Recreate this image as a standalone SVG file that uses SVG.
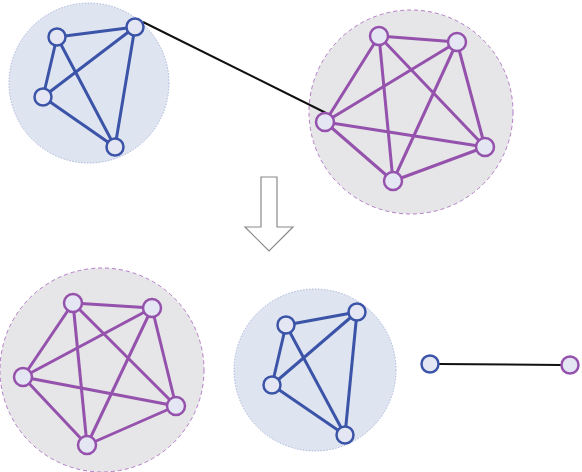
<svg xmlns="http://www.w3.org/2000/svg" width="582" height="472" viewBox="0 0 582 472">
<style>
.bgb{fill:#dfe4f1;stroke:#aab6da;stroke-width:1;stroke-dasharray:1.5 1.5}
.bgp{fill:#e6e6e8;stroke:#b47cc8;stroke-width:1;stroke-dasharray:4 3}
.eb{stroke:#3b54a8;stroke-width:3;fill:none}
.ep{stroke:#9552ad;stroke-width:3;fill:none}
.nb{fill:#e4e7f3;stroke:#3b54a8;stroke-width:2.5}
.np{fill:#e4e7f3;stroke:#9552ad;stroke-width:2.5}
.link{stroke:#111;stroke-width:2;fill:none}
</style>
<rect width="582" height="472" fill="#fff"/>
<g id="cluster-top-left">
<circle class="bgb" cx="89" cy="83" r="80"/>
</g>
<g id="cluster-top-right">
<circle class="bgp" cx="411" cy="112" r="102"/>
</g>
<g id="cluster-bottom-left">
<circle class="bgp" cx="102" cy="370" r="102"/>
</g>
<g id="cluster-bottom-mid">
<circle class="bgb" cx="315" cy="370" r="81"/>
</g>
<g id="connectors">
<g class="eb">
<line x1="57" y1="37" x2="135" y2="27"/>
<line x1="57" y1="37" x2="43" y2="97"/>
<line x1="57" y1="37" x2="115" y2="147"/>
<line x1="135" y1="27" x2="43" y2="97"/>
<line x1="135" y1="27" x2="115" y2="147"/>
<line x1="43" y1="97" x2="115" y2="147"/>
<line x1="286" y1="325" x2="357" y2="312"/>
<line x1="286" y1="325" x2="272" y2="385"/>
<line x1="286" y1="325" x2="345" y2="435"/>
<line x1="357" y1="312" x2="272" y2="385"/>
<line x1="357" y1="312" x2="345" y2="435"/>
<line x1="272" y1="385" x2="345" y2="435"/>
</g>
<g class="ep">
<line x1="379" y1="36" x2="457" y2="42"/>
<line x1="379" y1="36" x2="325" y2="122"/>
<line x1="379" y1="36" x2="485" y2="147"/>
<line x1="379" y1="36" x2="393" y2="181"/>
<line x1="457" y1="42" x2="325" y2="122"/>
<line x1="457" y1="42" x2="485" y2="147"/>
<line x1="457" y1="42" x2="393" y2="181"/>
<line x1="325" y1="122" x2="485" y2="147"/>
<line x1="325" y1="122" x2="393" y2="181"/>
<line x1="485" y1="147" x2="393" y2="181"/>
<line x1="73" y1="303" x2="152" y2="308"/>
<line x1="73" y1="303" x2="23" y2="377"/>
<line x1="73" y1="303" x2="176" y2="406"/>
<line x1="73" y1="303" x2="87" y2="445"/>
<line x1="152" y1="308" x2="23" y2="377"/>
<line x1="152" y1="308" x2="176" y2="406"/>
<line x1="152" y1="308" x2="87" y2="445"/>
<line x1="23" y1="377" x2="176" y2="406"/>
<line x1="23" y1="377" x2="87" y2="445"/>
<line x1="176" y1="406" x2="87" y2="445"/>
</g>
<line class="link" x1="143" y1="22" x2="326" y2="113"/>
<line class="link" x1="439" y1="364" x2="561" y2="365"/>
<path d="M261 177 H277 V227 H293 L269 251 L245 227 H261 Z" fill="#fff" stroke="#8a8a8a" stroke-width="1.2"/>
</g>
<g id="nodes-top-left">
<circle class="nb" cx="57" cy="37" r="8.5"/>
<circle class="nb" cx="135" cy="27" r="8.5"/>
<circle class="nb" cx="43" cy="97" r="8.5"/>
<circle class="nb" cx="115" cy="147" r="8.5"/>
</g>
<g id="nodes-top-right">
<circle class="np" cx="379" cy="36" r="9"/>
<circle class="np" cx="457" cy="42" r="9"/>
<circle class="np" cx="325" cy="122" r="9"/>
<circle class="np" cx="485" cy="147" r="9"/>
<circle class="np" cx="393" cy="181" r="9"/>
</g>
<g id="nodes-bottom-left">
<circle class="np" cx="73" cy="303" r="9"/>
<circle class="np" cx="152" cy="308" r="9"/>
<circle class="np" cx="23" cy="377" r="9"/>
<circle class="np" cx="176" cy="406" r="9"/>
<circle class="np" cx="87" cy="445" r="9"/>
</g>
<g id="nodes-bottom-mid">
<circle class="nb" cx="286" cy="325" r="8.5"/>
<circle class="nb" cx="357" cy="312" r="8.5"/>
<circle class="nb" cx="272" cy="385" r="8.5"/>
<circle class="nb" cx="345" cy="435" r="8.5"/>
</g>
<g id="pair">
<circle class="nb" cx="430" cy="364" r="8.5"/>
<circle class="np" cx="570" cy="365" r="8.5"/>
</g>
</svg>
